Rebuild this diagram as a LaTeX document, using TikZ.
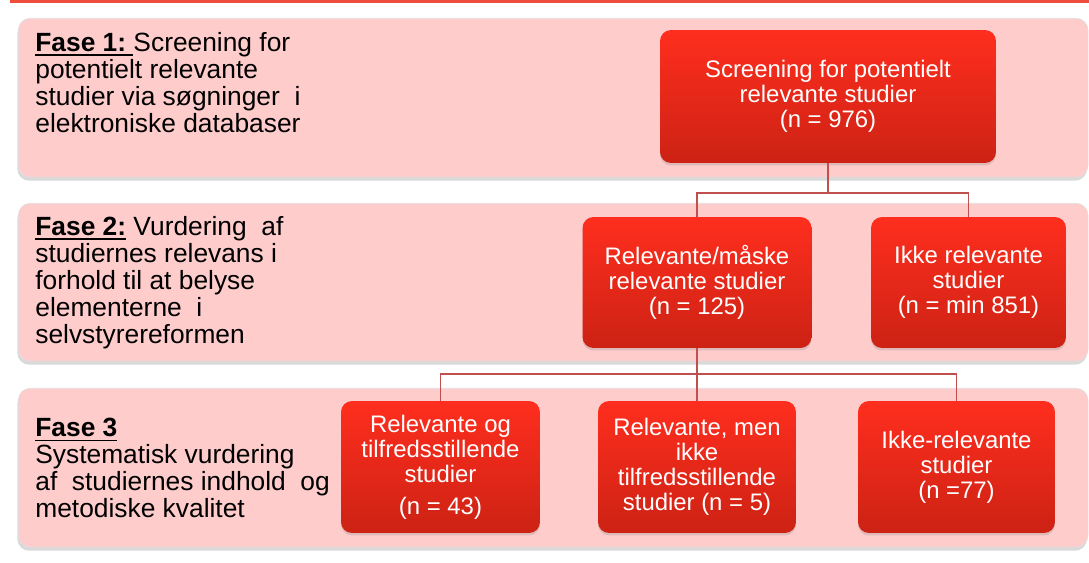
\documentclass[tikz,border=0pt]{standalone}
\usepackage{fontspec}
\setmainfont{Liberation Sans}
\usetikzlibrary{shadows}
\definecolor{bandpink}{RGB}{255,204,204}
\definecolor{boxtop}{RGB}{255,46,30}
\definecolor{boxbottom}{RGB}{204,34,20}
\definecolor{linkred}{RGB}{192,80,77}
\definecolor{topline}{RGB}{240,78,60}
\newcommand{\faseul}[1]{\setbox0\hbox{#1}\rlap{\rule[-2.6pt]{\wd0}{1pt}}\box0\relax}
\tikzset{
  band/.style={rectangle, rounded corners=0.24cm, fill=bandpink, draw=black!12,
    line width=0.3pt, inner sep=0pt, anchor=north west, minimum width=21.4cm,
    minimum height=3.18cm,
    drop shadow={shadow xshift=-0.02cm, shadow yshift=-0.07cm, opacity=0.3}},
  fasetext/.style={anchor=north west, inner sep=0pt, align=left,
    font=\fontsize{15}{15.4}\selectfont},
  stepbox/.style={rectangle, rounded corners=0.22cm, top color=boxtop,
    bottom color=boxbottom, text=white, align=center, inner sep=2pt,
    font=\fontsize{13.6}{14.2}\selectfont,
    drop shadow={shadow xshift=0cm, shadow yshift=-0.05cm, opacity=0.25}},
  link/.style={draw=linkred, line width=1.1pt}
}
\begin{document}
\begin{tikzpicture}[x=0.02cm, y=-0.02cm]
  \useasboundingbox (0,0) rectangle (1089,563);
  \fill[topline] (10,0) rectangle (1089,3);
  % the three phases
  \node[band] (band1) at (18,18) {};
  \node[band, minimum height=3.16cm] (band2) at (18,203) {};
  \node[band] (band3) at (18,388) {};
  \node[fasetext] (fase1) at (35,32)
    {\faseul{\textbf{Fase 1:}\ }Screening for\\
     potentielt relevante\\
     studier via søgninger\ \ i\\
     elektroniske databaser};
  \node[fasetext] (fase2) at (35,216)
    {\faseul{\textbf{Fase 2:}} Vurdering\ \ af\\
     studiernes relevans i\\
     forhold til at belyse\\
     elementerne\ \ i\\
     selvstyrereformen};
  \node[fasetext] (fase3) at (35,418)
    {\faseul{\textbf{Fase 3}}\\
     Systematisk vurdering\\
     af\ \ studiernes indhold\ \ og\\
     metodiske kvalitet};
  % boxes
  \node[stepbox, minimum width=6.72cm, minimum height=2.66cm] (screen) at (828,96.5)
    {Screening for potentielt\\ relevante studier\\ (n = 976)};
  \node[stepbox, minimum width=4.58cm, minimum height=2.62cm] (relmaske) at (697,282.5)
    {Relevante/måske\\ relevante studier\\ (n = 125)};
  \node[stepbox, minimum width=3.9cm, minimum height=2.62cm] (ikkerel) at (968.5,282.5)
    {Ikke relevante\\ studier\\ (n = min 851)};
  \node[stepbox, minimum width=3.98cm, minimum height=2.64cm] (tilf) at (440.5,467)
    {Relevante og\\ tilfredsstillende\\ studier\\[4pt] (n = 43)};
  \node[stepbox, minimum width=3.96cm, minimum height=2.64cm] (ikketilf) at (697,467)
    {Relevante, men\\ ikke\\ tilfredsstillende\\ studier (n = 5)};
  \node[stepbox, minimum width=3.94cm, minimum height=2.64cm] (irrel) at (956.5,467)
    {Ikke-relevante\\ studier\\ (n =77)};
  \begin{scope}[link]
    \draw (screen.south) -- ++(0,30) -| (relmaske.north);
    \draw (screen.south) -- ++(0,30) -| (ikkerel.north);
    \draw (relmaske.south) -- ++(0,26) -| (tilf.north);
    \draw (relmaske.south) -- (ikketilf.north);
    \draw (relmaske.south) -- ++(0,26) -| (irrel.north);
  \end{scope}
\end{tikzpicture}
\end{document}
